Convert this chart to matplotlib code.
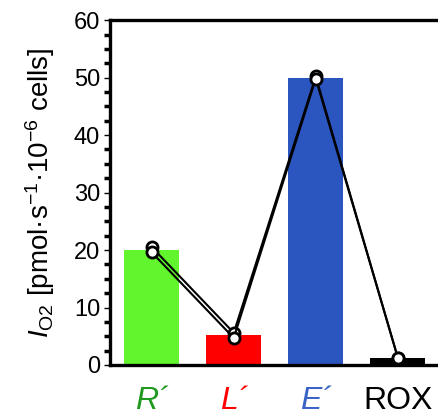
import matplotlib
matplotlib.use("Agg")
import matplotlib.pyplot as plt
from matplotlib.ticker import MultipleLocator

plt.rcParams['font.family'] = ['Liberation Sans', 'DejaVu Sans']
plt.rcParams['mathtext.fontset'] = 'custom'
plt.rcParams['mathtext.rm'] = 'Liberation Sans'
plt.rcParams['mathtext.it'] = 'Liberation Sans:italic'
plt.rcParams['mathtext.sf'] = 'Liberation Sans'

# Respiratory states and mean oxygen flux
states = ["R\u00b4", "L\u00b4", "E\u00b4", "ROX"]
mean_flux = [20.0, 5.3, 50.0, 1.2]
# Individual experiments
trace_a = [20.5, 5.6, 50.2, 1.3]
trace_b = [19.6, 4.7, 49.8, 1.3]

bar_colors = ["#62F52E", "#FF0000", "#2B56BF", "#000000"]
label_colors = ["#1F9A1F", "#FF0000", "#3A64C8", "#000000"]
label_styles = ["italic", "italic", "italic", "normal"]

fig = plt.figure(figsize=(4.38, 4.16), dpi=100)
ax = fig.add_axes([0.251, 0.1226, 0.747, 0.829])

x = list(range(len(states)))
ax.bar(x, mean_flux, width=0.67, color=bar_colors, zorder=1)

for tr in (trace_a, trace_b):
    ax.plot(x, tr, color="black", lw=1.5, marker="o", ms=8,
            mfc="white", mec="black", mew=2.0, zorder=3)

ax.set_xlim(-0.51, 3.48)
ax.set_ylim(0, 60)
ax.yaxis.set_major_locator(MultipleLocator(10))
ax.yaxis.set_minor_locator(MultipleLocator(2.5))
ax.tick_params(axis="y", which="major", direction="out", length=4, width=1.0,
               labelsize=17, pad=3)
ax.tick_params(axis="y", which="minor", direction="out", length=4, width=2.5)

ax.set_xticks(x)
ax.set_xticklabels(states, fontsize=23)
ax.tick_params(axis="x", length=0, pad=15)
for lbl, c, st in zip(ax.get_xticklabels(), label_colors, label_styles):
    lbl.set_color(c)
    lbl.set_style(st)

for side in ("left", "bottom", "top"):
    ax.spines[side].set_linewidth(2.4)
ax.spines["right"].set_visible(False)

ax.set_ylabel("$I_{\\mathrm{O2}}$ [pmol\u00b7s$^{-1}$\u00b710$^{-6}$ cells]",
              fontsize=20, labelpad=12)

fig.savefig("out.png", dpi=100)
